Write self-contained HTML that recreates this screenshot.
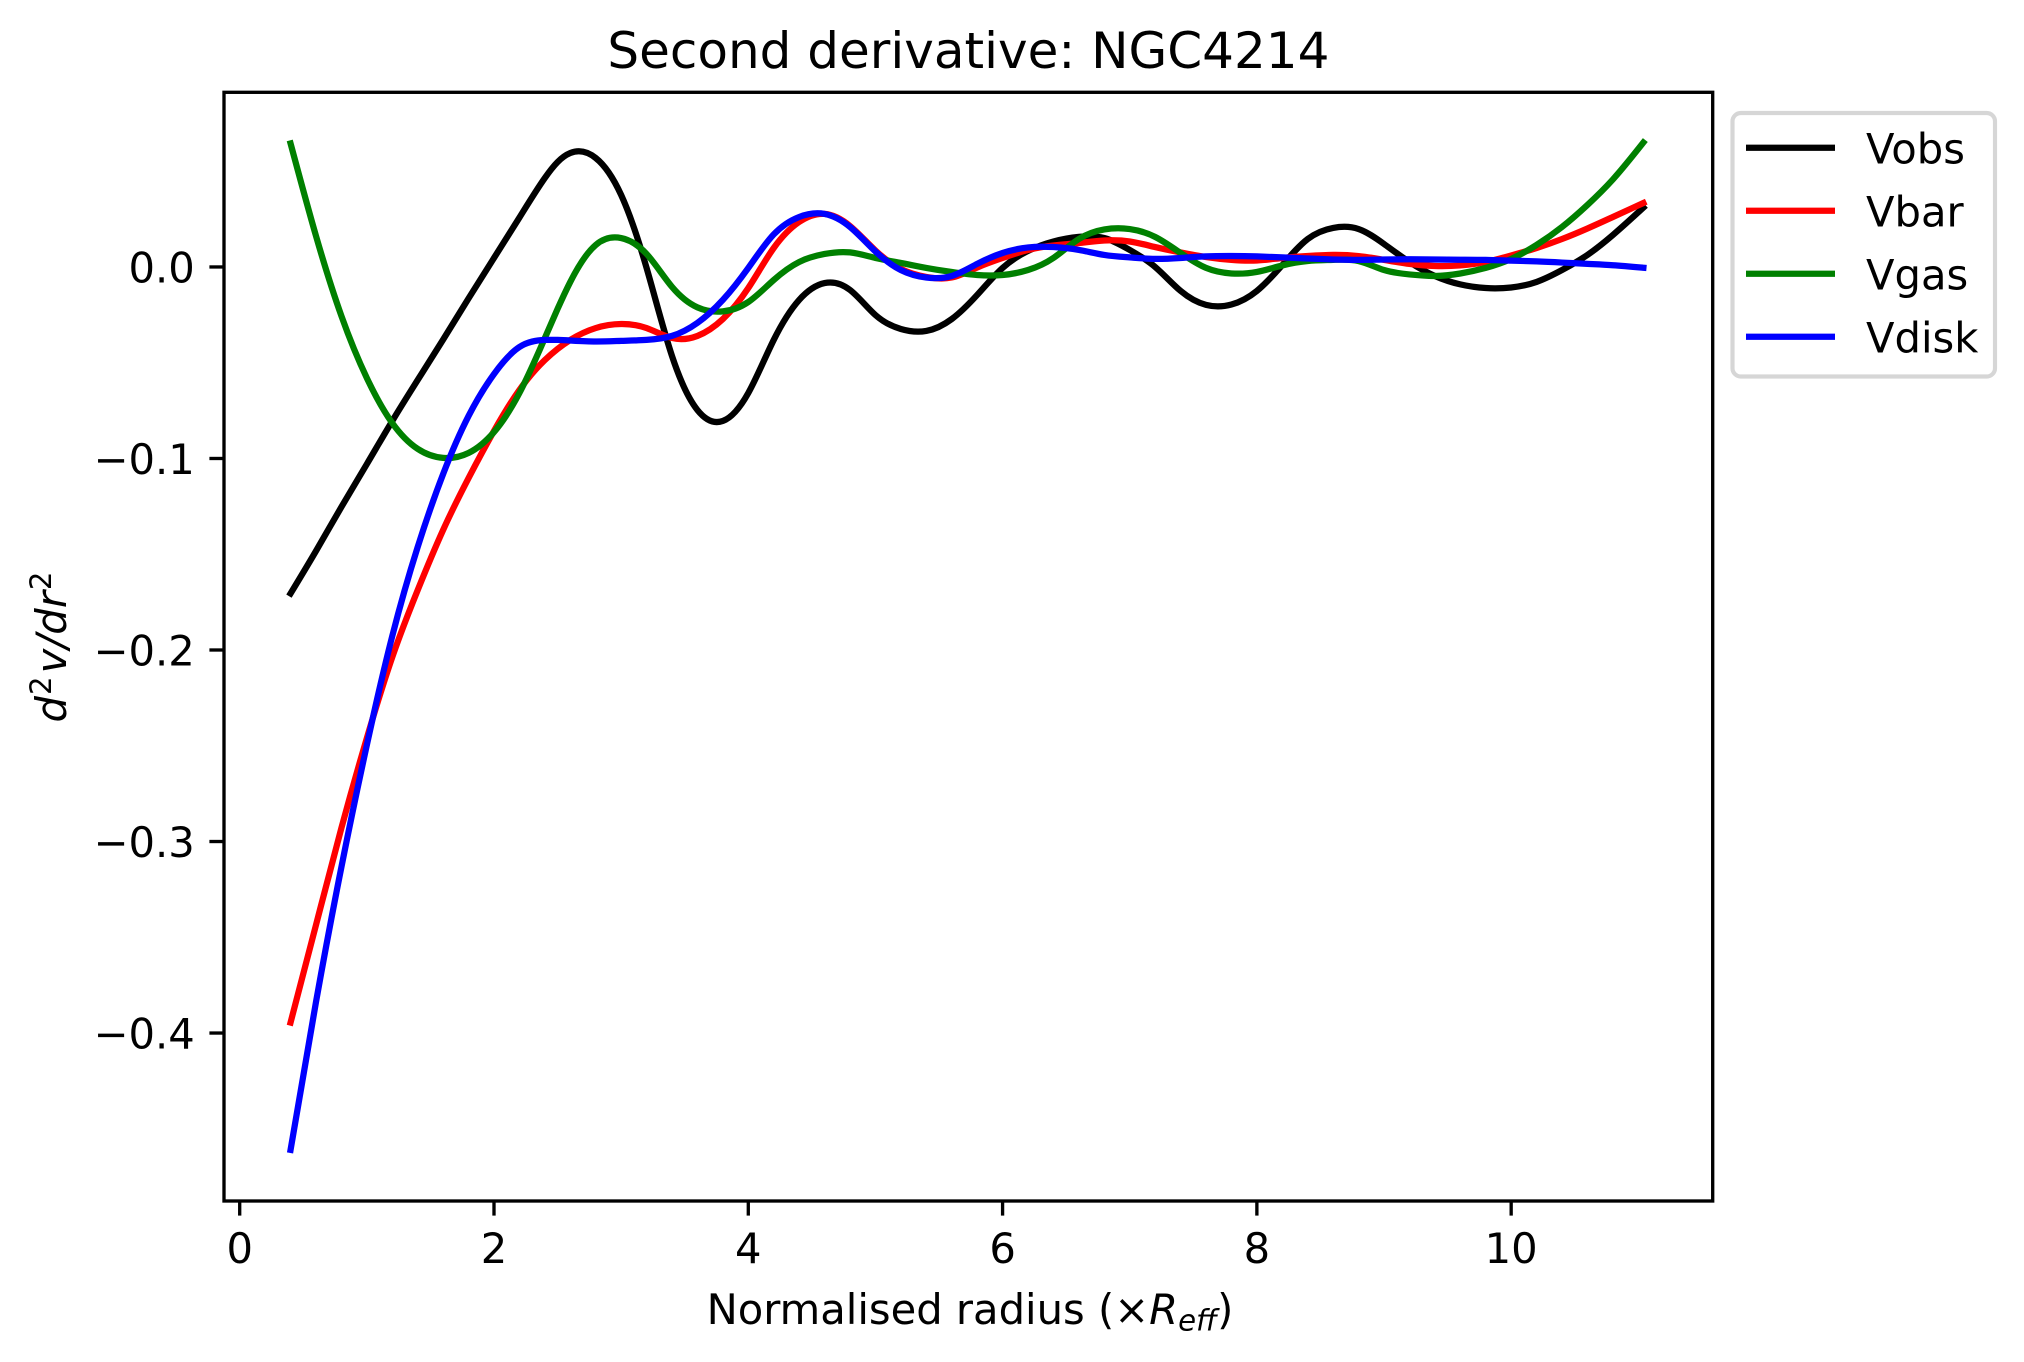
<!DOCTYPE html>
<html lang="en">
<head>
<meta charset="utf-8">
<title>Second derivative: NGC4214</title>
<style>
  html, body { margin: 0; padding: 0; background: #ffffff; }
  svg { display: block; font-family: "DejaVu Sans", "Liberation Sans", sans-serif; fill: #000; }
  text { white-space: pre; }
</style>
</head>
<body>
<svg id="chart" xmlns="http://www.w3.org/2000/svg" width="2024" height="1362" viewBox="0 0 2024 1362">
  <rect x="0" y="0" width="2024" height="1362" fill="#ffffff"/>
  <g id="series-layer"></g>
  <rect x="224" y="92.3" width="1488.7" height="1108.7" fill="none" stroke="#000" stroke-width="3.33"/>
  <g id="tick-layer"></g>

  <text x="968.4" y="68" font-size="50" text-anchor="middle">Second derivative: NGC4214</text>
  <text x="970" y="1324" font-size="41.67" text-anchor="middle">Normalised radius (×<tspan font-style="italic">R</tspan><tspan font-style="italic" font-size="29.2" dy="6.5">eff</tspan><tspan dy="-6.5">)</tspan></text>
  <text transform="translate(66 647) rotate(-90)" font-size="41.67" text-anchor="middle"><tspan font-style="italic">d</tspan><tspan font-size="29.2" dx="1" dy="-15">2</tspan><tspan font-style="italic" dx="3" dy="15">v/dr</tspan><tspan font-size="29.2" dx="1" dy="-15">2</tspan></text>

  <g>
    <rect x="1732.5" y="113" width="262.5" height="263.5" rx="8.3" ry="8.3" fill="#ffffff" stroke="#d6d6d6" stroke-width="4.17"/>
    <g>
      <line x1="1746" y1="147.7" x2="1835" y2="147.7" stroke="#000000" stroke-width="6.25"/>
      <text x="1866" y="163.3" font-size="41.67">Vobs</text>
    </g>
    <g>
      <line x1="1746" y1="210.7" x2="1835" y2="210.7" stroke="#ff0000" stroke-width="6.25"/>
      <text x="1866" y="226.3" font-size="41.67">Vbar</text>
    </g>
    <g>
      <line x1="1746" y1="273.7" x2="1835" y2="273.7" stroke="#008000" stroke-width="6.25"/>
      <text x="1866" y="289.3" font-size="41.67">Vgas</text>
    </g>
    <g>
      <line x1="1746" y1="336.7" x2="1835" y2="336.7" stroke="#0000ff" stroke-width="6.25"/>
      <text x="1866" y="352.3" font-size="41.67">Vdisk</text>
    </g>
  </g>
</svg>

<script>
const radius = [0.4,0.6,0.8,1.0,1.2,1.4,1.6,1.8,2.0,2.2,2.4,2.5,2.6,2.8,3.0,3.2,3.4,3.6,3.8,4.0,4.2,4.4,4.6,4.8,5.0,5.2,5.4,5.6,5.8,6.0,6.2,6.4,6.6,6.8,7.0,7.2,7.4,7.6,7.8,8.0,8.2,8.4,8.6,8.8,9.0,9.2,9.4,9.6,9.8,10.0,10.2,10.4,10.6,10.8,11.04];

const vobs = [-0.1705,-0.1483,-0.1253,-0.1029,-0.0804,-0.0590,-0.0379,-0.0164,0.0047,0.0258,0.0465,0.0548,0.0595,0.0569,0.0376,-0.0005,-0.0465,-0.0747,-0.0804,-0.0658,-0.0381,-0.0172,-0.0084,-0.0120,-0.0251,-0.0324,-0.0334,-0.0272,-0.0146,-0.0005,0.0084,0.0133,0.0157,0.0151,0.0089,0.0000,-0.0125,-0.0198,-0.0196,-0.0125,0.0010,0.0146,0.0204,0.0198,0.0120,0.0026,-0.0047,-0.0091,-0.0110,-0.0107,-0.0078,-0.0016,0.0063,0.0167,0.0310];

const vbar = [-0.3945,-0.3436,-0.2929,-0.2460,-0.2037,-0.1687,-0.1373,-0.1102,-0.0856,-0.0642,-0.0486,-0.0428,-0.0381,-0.0319,-0.0298,-0.0319,-0.0371,-0.0360,-0.0272,-0.0110,0.0099,0.0235,0.0277,0.0214,0.0086,-0.0010,-0.0052,-0.0055,-0.0003,0.0047,0.0089,0.0112,0.0125,0.0138,0.0133,0.0104,0.0076,0.0052,0.0037,0.0034,0.0047,0.0057,0.0063,0.0057,0.0037,0.0016,0.0005,0.0008,0.0026,0.0060,0.0099,0.0146,0.0201,0.0261,0.0334];

const vgas = [0.0645,0.0162,-0.0256,-0.0580,-0.0815,-0.0950,-0.0997,-0.0971,-0.0862,-0.0658,-0.0371,-0.0219,-0.0078,0.0115,0.0151,0.0068,-0.0104,-0.0211,-0.0232,-0.0183,-0.0068,0.0026,0.0068,0.0076,0.0047,0.0021,-0.0005,-0.0026,-0.0042,-0.0042,-0.0016,0.0047,0.0146,0.0196,0.0198,0.0157,0.0073,-0.0005,-0.0034,-0.0026,0.0008,0.0031,0.0037,0.0031,-0.0016,-0.0039,-0.0047,-0.0034,-0.0005,0.0042,0.0115,0.0209,0.0324,0.0457,0.0650];

const vdisk = [-0.4610,-0.3838,-0.3133,-0.2496,-0.1927,-0.1462,-0.1081,-0.0778,-0.0559,-0.0418,-0.0381,-0.0381,-0.0384,-0.0389,-0.0386,-0.0381,-0.0360,-0.0292,-0.0172,-0.0005,0.0170,0.0261,0.0277,0.0209,0.0081,-0.0016,-0.0055,-0.0047,0.0016,0.0073,0.0102,0.0104,0.0089,0.0063,0.0050,0.0042,0.0047,0.0055,0.0057,0.0055,0.0050,0.0044,0.0039,0.0037,0.0039,0.0040,0.0039,0.0038,0.0037,0.0033,0.0029,0.0023,0.0016,0.0009,-0.0004];

const xTicks = [0, 2, 4, 6, 8, 10];
const xTickLabels = ["0", "2", "4", "6", "8", "10"];
const yTicks = [0.0, -0.1, -0.2, -0.3, -0.4];
const yTickLabels = ["0.0", "\u22120.1", "\u22120.2", "\u22120.3", "\u22120.4"];

const NS = "http://www.w3.org/2000/svg";
const plot = { left: 224, right: 1712.7, top: 92.3, bottom: 1201 };
const xLim = [-0.1235, 11.585];
const yLim = [-0.4877, 0.0912];

function xScale(v) {
  return plot.left + (v - xLim[0]) / (xLim[1] - xLim[0]) * (plot.right - plot.left);
}
function yScale(v) {
  return plot.bottom - (v - yLim[0]) / (yLim[1] - yLim[0]) * (plot.bottom - plot.top);
}

// Natural cubic spline through the data points, emitted as exact Bezier segments.
function smoothPath(xs, ys) {
  const px = xs.map(xScale);
  const py = ys.map(yScale);
  const n = px.length;
  const h = [];
  for (let i = 0; i < n - 1; i++) h.push(px[i + 1] - px[i]);
  const c = new Array(n).fill(0);
  const r = new Array(n).fill(0);
  for (let i = 1; i < n - 1; i++) {
    const rhs = 6 * ((py[i + 1] - py[i]) / h[i] - (py[i] - py[i - 1]) / h[i - 1]);
    const m = 2 * (h[i - 1] + h[i]) - h[i - 1] * c[i - 1];
    c[i] = h[i] / m;
    r[i] = (rhs - h[i - 1] * r[i - 1]) / m;
  }
  const M = new Array(n).fill(0);
  for (let i = n - 2; i >= 1; i--) M[i] = r[i] - c[i] * M[i + 1];
  let d = "M" + px[0].toFixed(2) + " " + py[0].toFixed(2);
  for (let i = 0; i < n - 1; i++) {
    const s = (py[i + 1] - py[i]) / h[i];
    const m0 = s - h[i] * (2 * M[i] + M[i + 1]) / 6;
    const m1 = s + h[i] * (M[i] + 2 * M[i + 1]) / 6;
    const t = h[i] / 3;
    d += " C" + (px[i] + t).toFixed(2) + " " + (py[i] + m0 * t).toFixed(2) +
         " " + (px[i + 1] - t).toFixed(2) + " " + (py[i + 1] - m1 * t).toFixed(2) +
         " " + px[i + 1].toFixed(2) + " " + py[i + 1].toFixed(2);
  }
  return d;
}

const seriesLayer = document.getElementById("series-layer");
const tickLayer = document.getElementById("tick-layer");

function drawSeries(values, color, name) {
  const path = document.createElementNS(NS, "path");
  path.setAttribute("d", smoothPath(radius, values));
  path.setAttribute("fill", "none");
  path.setAttribute("stroke", color);
  path.setAttribute("stroke-width", "6.25");
  path.setAttribute("stroke-linecap", "square");
  path.setAttribute("stroke-linejoin", "round");
  
  
  seriesLayer.appendChild(path);
}

drawSeries(vobs, "#000000", "series-vobs");
drawSeries(vbar, "#ff0000", "series-vbar");
drawSeries(vgas, "#008000", "series-vgas");
drawSeries(vdisk, "#0000ff", "series-vdisk");

xTicks.forEach(function (t, i) {
  const x = xScale(t);
  const mark = document.createElementNS(NS, "line");
  mark.setAttribute("x1", x);
  mark.setAttribute("x2", x);
  mark.setAttribute("y1", plot.bottom);
  mark.setAttribute("y2", plot.bottom + 14.6);
  mark.setAttribute("stroke", "#000");
  mark.setAttribute("stroke-width", "3.33");
  
  
  tickLayer.appendChild(mark);

  const label = document.createElementNS(NS, "text");
  label.setAttribute("x", x);
  label.setAttribute("y", plot.bottom + 62);
  label.setAttribute("font-size", "41.67");
  label.setAttribute("text-anchor", "middle");
  
  
  label.textContent = xTickLabels[i];
  tickLayer.appendChild(label);
});

yTicks.forEach(function (t, i) {
  const y = yScale(t);
  const mark = document.createElementNS(NS, "line");
  mark.setAttribute("x1", plot.left - 14.6);
  mark.setAttribute("x2", plot.left);
  mark.setAttribute("y1", y);
  mark.setAttribute("y2", y);
  mark.setAttribute("stroke", "#000");
  mark.setAttribute("stroke-width", "3.33");
  
  
  tickLayer.appendChild(mark);

  const label = document.createElementNS(NS, "text");
  label.setAttribute("x", plot.left - 29.2);
  label.setAttribute("y", y + 15.7);
  label.setAttribute("font-size", "41.67");
  label.setAttribute("text-anchor", "end");
  
  
  label.textContent = yTickLabels[i];
  tickLayer.appendChild(label);
});
</script>
</body>
</html>
